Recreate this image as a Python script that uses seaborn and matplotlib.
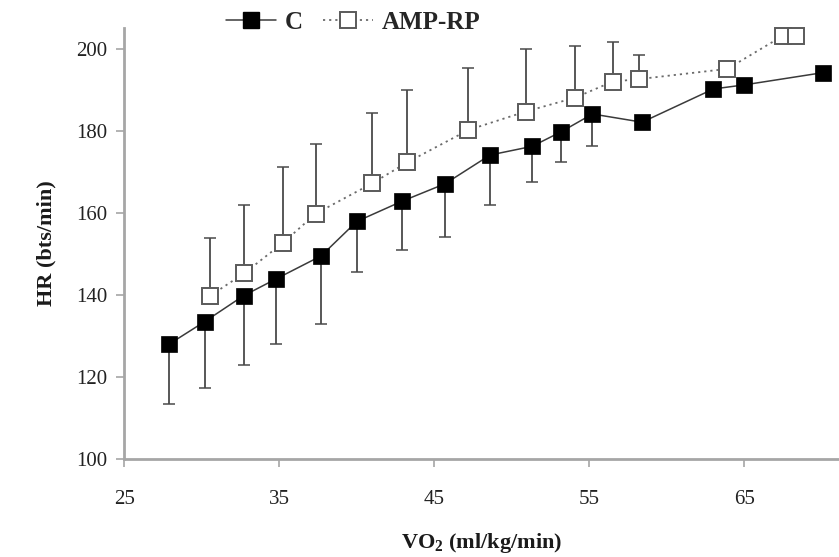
import numpy as np
import pandas as pd
import seaborn as sns
import matplotlib.pyplot as plt
from matplotlib.lines import Line2D

# ----------------------------------------------------------------------
# Data
# ----------------------------------------------------------------------
c_vo2 = [27.9, 30.2, 32.7, 34.8, 37.7, 40.0, 42.9, 45.7, 48.6, 51.3, 53.2, 55.2,
         58.4, 63.0, 65.0, 70.1]
c_hr = [128.0, 133.5, 139.8, 143.9, 149.5, 157.9, 162.8, 167.1, 174.1, 176.2,
        179.8, 184.1, 182.1, 190.2, 191.2, 194.2]
c_sd_low = [14.7, 16.1, 16.9, 15.9, 16.6, 12.4, 11.8, 12.9, 12.2, 8.6, 7.5, 7.7,
            0, 0, 0, 0]

amp_vo2 = [30.55, 32.75, 35.25, 37.35, 41.0, 43.25, 47.2, 50.9, 54.1, 56.5, 58.2,
           63.9, 67.5, 68.35]
amp_hr = [139.8, 145.3, 152.7, 159.8, 167.2, 172.3, 180.2, 184.7, 188.1, 192.0,
          192.6, 195.1, 203.2, 203.2]
amp_sd_up = [14.0, 16.6, 18.4, 17.0, 17.1, 17.7, 15.1, 15.2, 12.5, 9.6, 5.9, 0, 0, 0]

x_ticks = [25, 35, 45, 55, 65]
y_ticks = [100, 120, 140, 160, 180, 200]

c_df = pd.DataFrame({"VO2": c_vo2, "HR": c_hr})
amp_df = pd.DataFrame({"VO2": amp_vo2, "HR": amp_hr})

# ----------------------------------------------------------------------
# Style
# ----------------------------------------------------------------------
sns.set_theme(style="white")
plt.rcParams["font.family"] = ["Liberation Serif", "DejaVu Serif"]
plt.rcParams["mathtext.fontset"] = "custom"
plt.rcParams["mathtext.rm"] = "Liberation Serif"
plt.rcParams["mathtext.bf"] = "Liberation Serif:bold"

axis_grey = "#a6a6a6"
line_dark = "#3a3a3a"
err_col = "#4a4a4a"

fig = plt.figure(figsize=(8.39, 5.57), dpi=100)
ax = fig.add_axes([0.148, 0.176, 0.852, 0.774])

# error bars first so markers sit on top
ax.errorbar(c_vo2, c_hr, yerr=[c_sd_low, [0] * len(c_sd_low)], fmt="none",
            ecolor=err_col, elinewidth=1.3, capsize=4, capthick=1.1, zorder=1)
ax.errorbar(amp_vo2, amp_hr, yerr=[[0] * len(amp_sd_up), amp_sd_up], fmt="none",
            ecolor=err_col, elinewidth=1.3, capsize=4, capthick=1.1, zorder=1)

sns.lineplot(data=c_df, x="VO2", y="HR", sort=False, ax=ax, color=line_dark,
             linewidth=1.1, marker="s", markersize=12, markerfacecolor="black",
             markeredgecolor="black", markeredgewidth=0.5, zorder=3)
sns.lineplot(data=amp_df, x="VO2", y="HR", sort=False, ax=ax, color="#6a6a6a",
             linewidth=1.3, linestyle=(0, (1.2, 2.2)), marker="s", markersize=11.5,
             markerfacecolor="white", markeredgecolor="#5a5a5a",
             markeredgewidth=1.4, zorder=2)

# markers near the top edge must not be cut off
for ln in ax.lines:
    ln.set_clip_on(False)

ax.set_xlim(25, 71.1)
ax.set_ylim(100, 205.1)
ax.set_xticks(x_ticks)
ax.set_yticks(y_ticks)
ax.tick_params(axis="both", direction="out", length=6, width=1.2, color=axis_grey,
               labelsize=15, labelcolor="#222222", bottom=True, left=True)
ax.tick_params(axis="x", pad=16)
ax.tick_params(axis="y", pad=6)

for side in ["top", "right"]:
    ax.spines[side].set_visible(False)
for side in ["left", "bottom"]:
    ax.spines[side].set_color(axis_grey)
    ax.spines[side].set_linewidth(2)

ax.set_xlabel(r"VO$_{\mathbf{2}}$ (ml/kg/min)", fontsize=16, fontweight="bold",
              color="#1a1a1a", labelpad=16)
ax.set_ylabel("HR (bts/min)", fontsize=16, fontweight="bold", color="#1a1a1a",
              labelpad=14)

handles = [
    Line2D([], [], color=line_dark, linewidth=1.1, marker="s", markersize=12,
           markerfacecolor="black", markeredgecolor="black"),
    Line2D([], [], color="#6a6a6a", linewidth=1.3, linestyle=(0, (1.2, 2.2)),
           marker="s", markersize=11.5, markerfacecolor="white",
           markeredgecolor="#5a5a5a", markeredgewidth=1.4),
]
fig.legend(handles, ["C", "AMP-RP"], loc="center", bbox_to_anchor=(0.421, 0.96),
           ncol=2, frameon=False, handlelength=2.0, handletextpad=0.35,
           columnspacing=0.8, prop={"size": 18, "weight": "bold"})

fig.savefig("out.png", dpi=100)
